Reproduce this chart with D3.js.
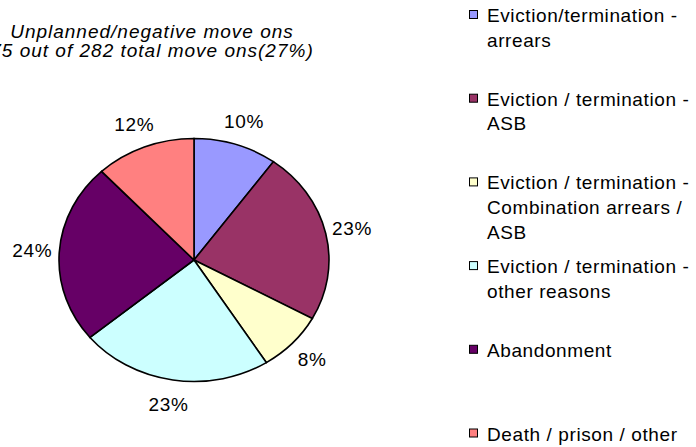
<!DOCTYPE html>
<html>
<head>
<meta charset="utf-8">
<script src="https://cdn.jsdelivr.net/npm/d3@7"></script>
<style>
  body { margin: 0; background: #fff; }
  text { font-family: "Liberation Sans", Arial, sans-serif; fill: #000; }
</style>
</head>
<body>
<script>
const w = 696;
const h = 447;

// ----- DATA -----
const categories = [
  "Eviction/termination - arrears",
  "Eviction / termination - ASB",
  "Eviction / termination - Combination arrears / ASB",
  "Eviction / termination - other reasons",
  "Abandonment",
  "Death / prison / other"
];
const percents = [10, 23, 8, 23, 24, 12];
const colors = ["#9999FF", "#993366", "#FFFFCC", "#CCFFFF", "#660066", "#FF8080"];
// legend text split into lines as in the original
const legendLines = [
  ["Eviction/termination -", "arrears"],
  ["Eviction / termination -", "ASB"],
  ["Eviction / termination -", "Combination arrears /", "ASB"],
  ["Eviction / termination -", "other reasons"],
  ["Abandonment"],
  ["Death / prison / other"]
];
const titleLines = ["Unplanned/negative move ons", "75 out of 282 total move ons(27%)"];

const svg = d3.select("body").append("svg")
  .attr("width", w)
  .attr("height", h);

// ----- TITLE -----
svg.append("g")
  .selectAll("text")
  .data(titleLines)
  .enter()
  .append("text")
  .attr("x", 152)
  .attr("y", (d, i) => 38 + i * 19)
  .attr("text-anchor", "middle")
  .style("font-size", "19px")
  .style("font-style", "italic")
  .style("letter-spacing", "1px")
  .text(d => d);

// ----- PIE -----
const cx = 194, cy = 260, r = 135, squash = 0.9;

const pie = d3.pie().sort(null).value(d => d);
const arcs = pie(percents);
const arc = d3.arc().innerRadius(0).outerRadius(r);
const labelArc = d3.arc().innerRadius(162).outerRadius(162);

svg.append("g")
  .attr("transform", `translate(${cx},${cy}) scale(1,${squash})`)
  .selectAll("path")
  .data(arcs)
  .enter()
  .append("path")
  .attr("d", arc)
  .attr("fill", (d, i) => colors[i])
  .attr("stroke", "#000")
  .attr("stroke-width", 1.6)
  .attr("vector-effect", "non-scaling-stroke");

svg.append("g")
  .selectAll("text")
  .data(arcs)
  .enter()
  .append("text")
  .attr("x", d => cx + labelArc.centroid(d)[0])
  .attr("y", d => cy + labelArc.centroid(d)[1] * squash)
  .attr("text-anchor", "middle")
  .attr("dominant-baseline", "central")
  .style("font-size", "19px")
  .style("letter-spacing", "0.7px")
  .text(d => d.data + "%");

// ----- LEGEND -----
const legend = svg.append("g");
const item = legend.selectAll("g")
  .data(categories)
  .enter()
  .append("g")
  .attr("transform", (d, i) => `translate(469,${15 + i * 83.7})`);

item.append("rect")
  .attr("x", 0.5)
  .attr("y", -4.5)
  .attr("width", 8)
  .attr("height", 8)
  .attr("fill", (d, i) => colors[i])
  .attr("stroke", "#000");

item.each(function (d, i) {
  d3.select(this).selectAll("text")
    .data(legendLines[i])
    .enter()
    .append("text")
    .attr("x", 18)
    .attr("y", (t, j) => j * 24.7 + 7)
    .style("font-size", "19px")
    .style("letter-spacing", "0.6px")
    .text(t => t);
});
</script>
</body>
</html>
